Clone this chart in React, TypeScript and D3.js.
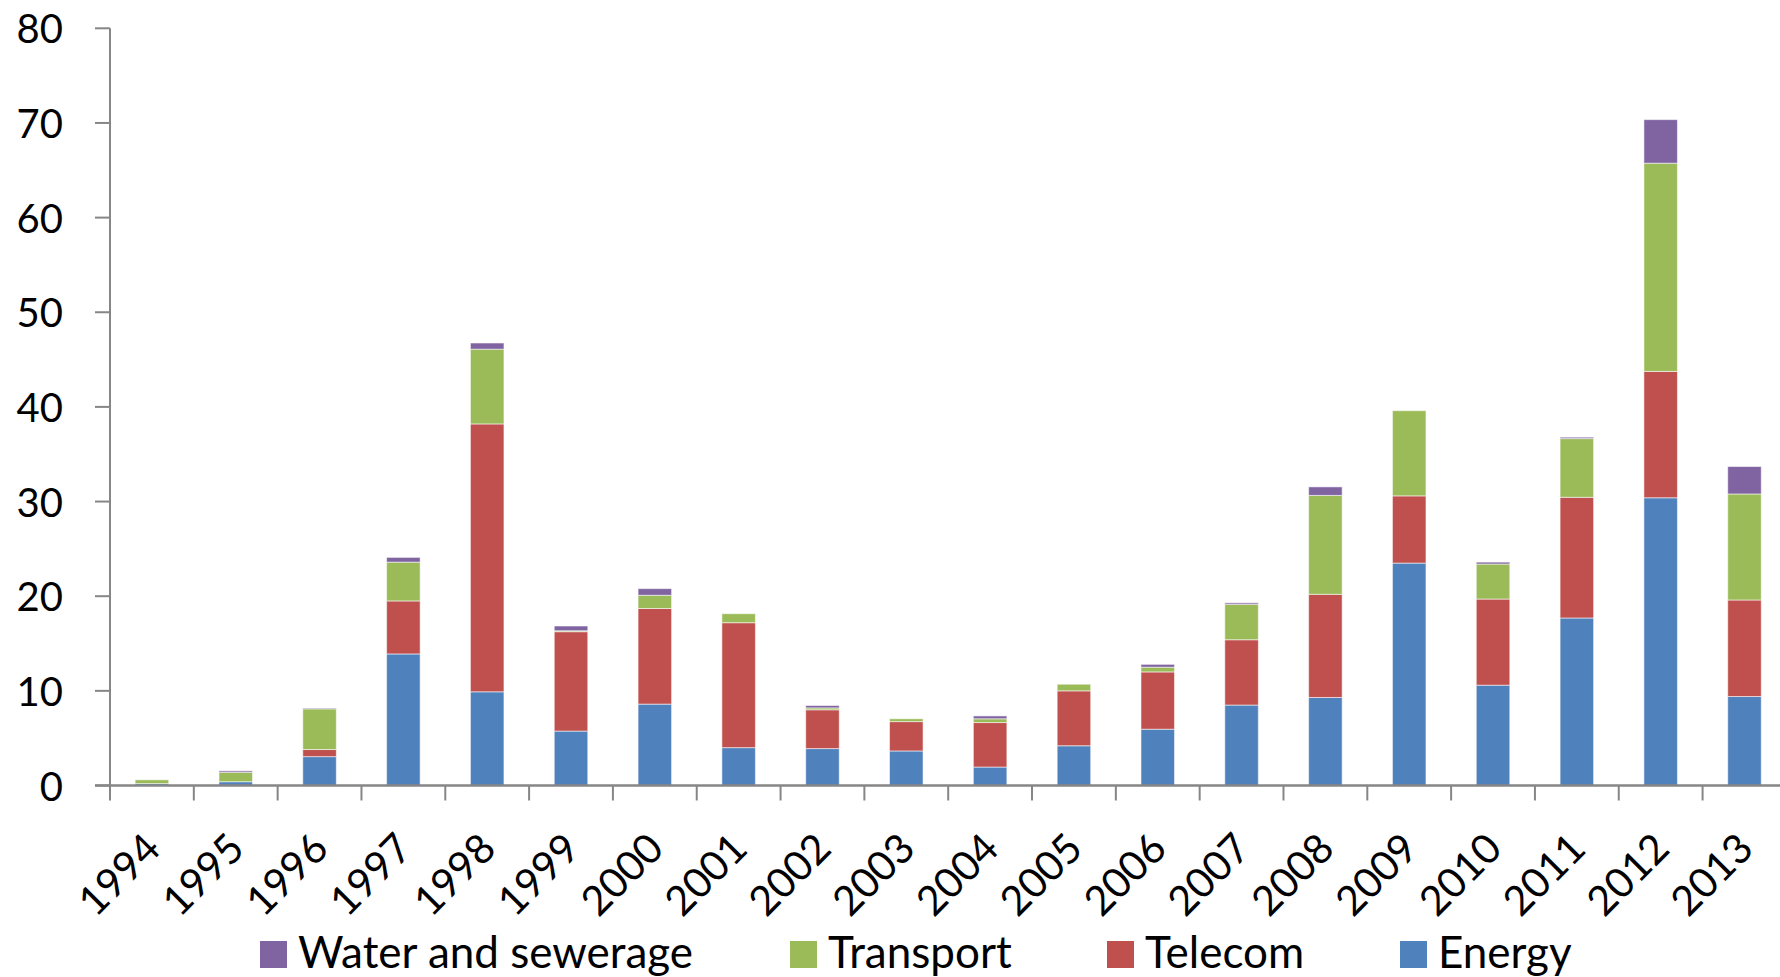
import React from 'react';
import * as d3 from 'd3';

// Investment by sector, 1994–2013
const years = ['1994', '1995', '1996', '1997', '1998', '1999', '2000', '2001', '2002', '2003',
  '2004', '2005', '2006', '2007', '2008', '2009', '2010', '2011', '2012', '2013'];
const energy = [0.2, 0.4, 3.05, 13.9, 9.9, 5.75, 8.6, 4.0, 3.9, 3.65, 1.95, 4.2, 5.95, 8.5, 9.3, 23.5, 10.6, 17.7, 30.4, 9.4];
const telecom = [0, 0, 0.75, 5.6, 28.3, 10.5, 10.1, 13.2, 4.1, 3.1, 4.7, 5.8, 6.05, 6.9, 10.9, 7.1, 9.1, 12.75, 13.35, 10.2];
const transport = [0.4, 1.0, 4.3, 4.1, 7.9, 0.1, 1.4, 0.95, 0.2, 0.3, 0.4, 0.7, 0.5, 3.75, 10.45, 9.0, 3.7, 6.2, 22.0, 11.2];
const water = [0, 0.15, 0.08, 0.5, 0.65, 0.5, 0.7, 0, 0.25, 0, 0.3, 0, 0.3, 0.15, 0.9, 0, 0.2, 0.15, 4.6, 2.9];

const seriesKeys = ['Energy', 'Telecom', 'Transport', 'Water and sewerage'];
const seriesColors: Record<string, string> = {
  'Energy': '#4F81BD',
  'Telecom': '#C0504D',
  'Transport': '#9BBB59',
  'Water and sewerage': '#8064A2',
};
const legendOrder = ['Water and sewerage', 'Transport', 'Telecom', 'Energy'];
const legendX = [260, 790, 1107, 1400];
const yTicks = [0, 10, 20, 30, 40, 50, 60, 70, 80];

const W = 1780;
const H = 977;
const FONT = 'Lato, "Open Sans", sans-serif';
const AXIS = '#868686';

export default function App() {
  const rows = years.map((y, i) => ({
    year: y,
    'Energy': energy[i],
    'Telecom': telecom[i],
    'Transport': transport[i],
    'Water and sewerage': water[i],
  }));
  const stacked = d3.stack<any>().keys(seriesKeys)(rows);

  const x0 = 110;
  const step = 83.82;
  const x = d3.scaleBand<string>()
    .domain(years)
    .range([x0, x0 + step * years.length])
    .paddingInner(0.6)
    .paddingOuter(0.3);
  const y = d3.scaleLinear().domain([0, 80]).range([785.5, 28.3]);
  const yBase = y(0);

  const boundaries = d3.range(years.length + 1).map((k) => x0 + k * x.step());

  return (
    <svg width={W} height={H} style={{ position: 'absolute', left: 0, top: 0, background: '#fff' }}
      fontFamily={FONT}>
      <rect x={0} y={0} width={W} height={H} fill="#fff" />
      {stacked.map((layer) => (
        <g key={layer.key} fill={seriesColors[layer.key]}>
          {layer.map((d, i) => {
            const h = y(d[0]) - y(d[1]);
            if (h <= 0) return null;
            return (
              <rect key={i} x={x(years[i])} width={x.bandwidth()} y={y(d[1])} height={h}
                stroke="#ffffff" strokeOpacity={0.55} strokeWidth={1} />
            );
          })}
        </g>
      ))}

      {/* value axis */}
      <line x1={x0} x2={x0} y1={y(80)} y2={yBase} stroke={AXIS} strokeWidth={2} />
      {yTicks.map((t) => (
        <g key={t}>
          <line x1={x0 - 15} x2={x0} y1={y(t)} y2={y(t)} stroke={AXIS} strokeWidth={2} />
          <text x={63} y={y(t)} textAnchor="end" dominantBaseline="central" fontSize={40} fill="#000">{t}</text>
        </g>
      ))}

      {/* category axis */}
      <line x1={x0 - 15} x2={W} y1={yBase} y2={yBase} stroke={AXIS} strokeWidth={2.5} />
      {boundaries.map((bx, k) => (
        <line key={k} x1={bx} x2={bx} y1={yBase} y2={yBase + 15} stroke={AXIS} strokeWidth={2} />
      ))}
      {years.map((yr) => {
        const cx = (x(yr) as number) + x.bandwidth() / 2;
        const cy = 840;
        return (
          <text key={yr} x={cx} y={cy} transform={`rotate(-45 ${cx} ${cy})`} textAnchor="end"
            dominantBaseline="central" fontSize={41} fill="#000">{yr}</text>
        );
      })}

      {/* legend */}
      {legendOrder.map((k, i) => (
        <g key={k} transform={`translate(${legendX[i]},941)`}>
          <rect x={0} y={0} width={27} height={27} fill={seriesColors[k]} />
          <text x={38} y={26.7} fontSize={44} fill="#000">{k}</text>
        </g>
      ))}
    </svg>
  );
}
